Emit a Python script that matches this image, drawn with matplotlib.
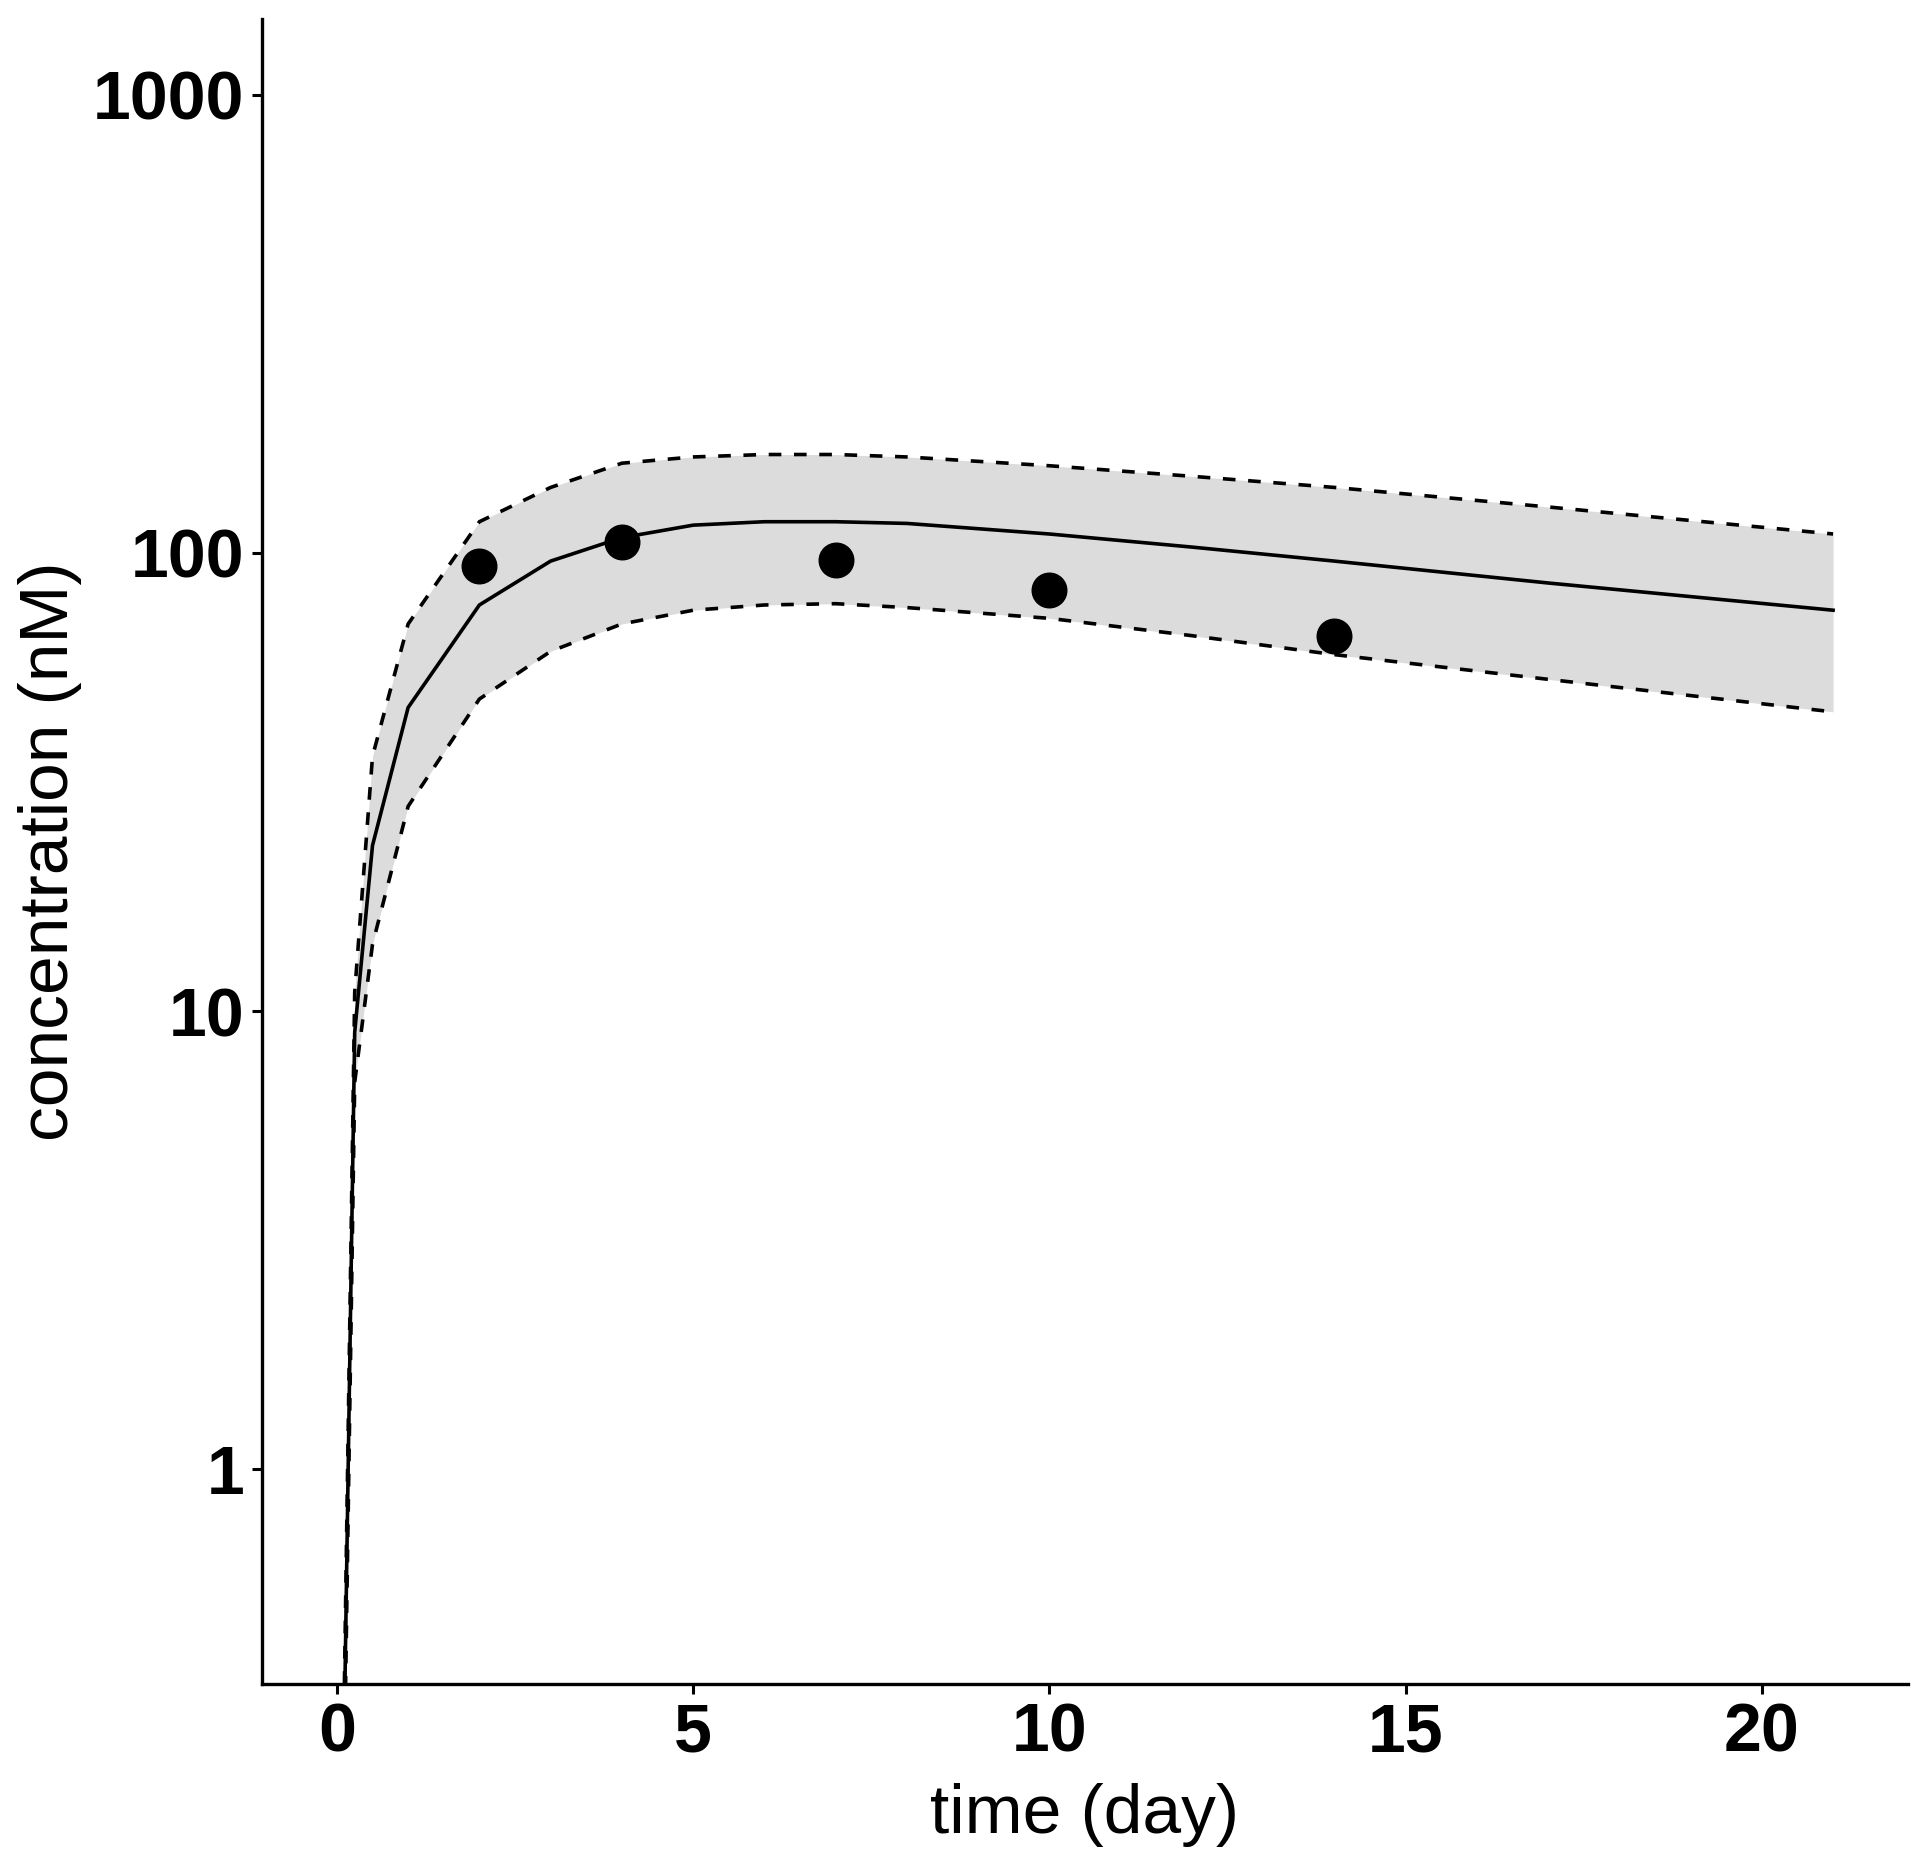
import numpy as np
import matplotlib
matplotlib.use('Agg')
import matplotlib.pyplot as plt
from matplotlib.ticker import FixedLocator, NullLocator

# 시간(일)과 농도(nM) 값 - 그림에서 읽은 값
time = [0.1, 0.25, 0.5, 1, 2, 3, 4, 5, 6, 7, 8, 10, 12, 14, 17, 21]
median = [0.25, 9, 23, 46, 77, 96, 108, 115, 117, 117, 116, 110, 103, 96, 86, 75]
upper = [0.3, 11, 36, 70, 117, 139, 157, 162, 164, 164, 162, 155, 147, 139, 126, 110]
lower = [0.2, 7, 14, 28, 48, 61, 70, 75, 77, 77.5, 76, 72, 66, 60, 53, 45]

obs_time = [2, 4, 7, 10, 14]
obs_conc = [93.5, 105.5, 96.5, 83, 66]

x_ticks = [0, 5, 10, 15, 20]
y_ticks = [1, 10, 100, 1000]
y_tick_labels = ['1', '10', '100', '1000']

plt.rcParams['font.family'] = ['Liberation Sans', 'DejaVu Sans']

fig = plt.figure(figsize=(19.2, 18.64), dpi=100)
ax = fig.add_axes([0.1365, 0.0966, 0.8572, 0.8934])

ax.fill_between(time, lower, upper, color='#dcdcdc', linewidth=0, zorder=1)
ax.plot(time, median, color='black', lw=2.6, zorder=3)
ax.plot(time, upper, color='black', lw=2.6, ls=(0, (3.5, 3.5)), zorder=3)
ax.plot(time, lower, color='black', lw=2.6, ls=(0, (3.5, 3.5)), zorder=3)
ax.scatter(obs_time, obs_conc, s=620, color='black', zorder=4)

ax.set_yscale('log')
ax.set_xlim(-1.05, 22.05)
ax.set_ylim(10 ** -0.468, 10 ** 3.166)

ax.xaxis.set_major_locator(FixedLocator(x_ticks))
ax.yaxis.set_major_locator(FixedLocator(y_ticks))
ax.yaxis.set_minor_locator(NullLocator())
ax.set_yticklabels(y_tick_labels)

for s in ['top', 'right']:
    ax.spines[s].set_visible(False)
for s in ['left', 'bottom']:
    ax.spines[s].set_linewidth(2.4)

ax.tick_params(axis='both', length=7, width=2.2, labelsize=49, pad=6)
for lab in ax.get_xticklabels() + ax.get_yticklabels():
    lab.set_fontweight('bold')

ax.set_xlabel('time (day)', fontsize=50, labelpad=12)
ax.set_ylabel('concentration (nM)', fontsize=50, labelpad=8)

fig.savefig('out.png', dpi=100)
